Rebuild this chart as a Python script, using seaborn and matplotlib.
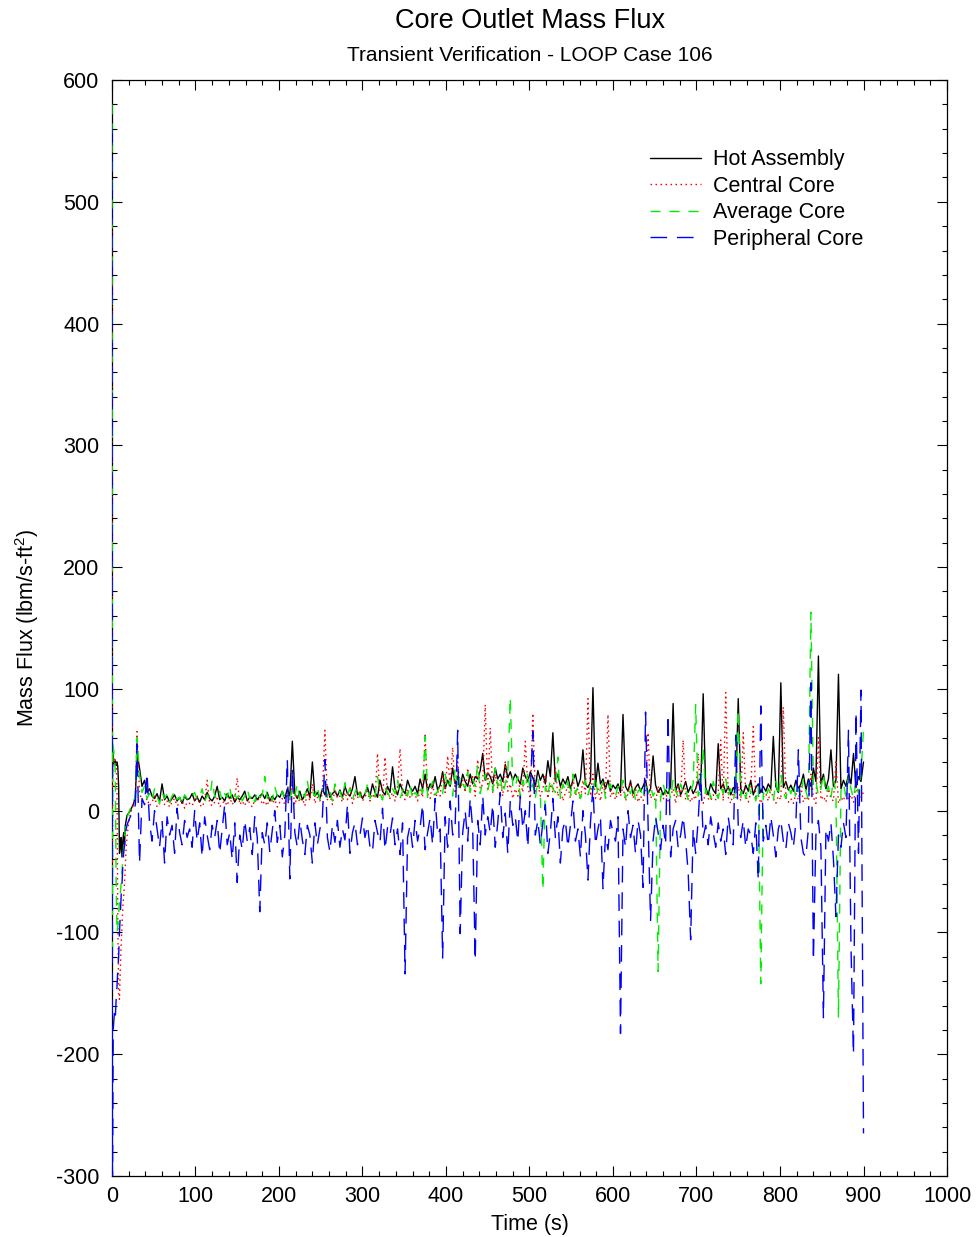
import numpy as np
import pandas as pd
import matplotlib
matplotlib.use("Agg")
import matplotlib.pyplot as plt
from matplotlib.ticker import MultipleLocator
import seaborn as sns

# ---- data -------------------------------------------------------------
# start-up transient (finer sampling), then every 3 s up to 900 s
t_start = [0, 0.5, 1, 1.5, 2, 3, 4, 5, 6, 7, 8, 9, 10, 11, 12, 13, 14, 15,
           16, 17, 18, 20, 22, 24, 26, 28, 30]
t_run = np.arange(33, 901, 3)

hot_start = [420, 30, 48, 42, 40, 38, 41, 37, 40, 36, 20, -35, -30, -22, -38,
             -25, -18, -28, -12, -8, -4, -2, 0, 3, 6, 12, 48]
central_start = [480, -60, 50, 46, 44, 40, 42, 38, 20, -90, -150, -155, -130,
                 -110, -95, -80, -70, -60, -45, -30, -22, -10, -3, 2, 5, 8, 65]
average_start = [580, -120, 55, 52, 50, 45, 30, -60, -100, -95, -85, -75, -68,
                 -60, -50, -40, -30, -22, -15, -10, -6, -2, 2, 5, 8, 12, 60]
peripheral_start = [560, -330, -250, -180, -175, -165, -170, -155, -145, -130,
                    -120, -100, -85, -70, -60, -45, -35, -28, -22, -15, -12,
                    -8, -5, -2, 0, 5, 55]

hot_run = [
    35, 20, 25, 15, 18, 12, 10, 14, 8, 22,
    9, 12, 7, 10, 13, 8, 11, 6, 12, 9,
    10, 14, 8, 11, 7, 12, 9, 15, 10, 8,
    12, 20, 9, 11, 8, 14, 10, 13, 7, 11,
    9, 12, 16, 8, 11, 10, 13, 9, 12, 14,
    10, 15, 8, 12, 9, 13, 11, 16, 10, 18,
    12, 57, 14, 10, 16, 9, 13, 18, 11, 40,
    12, 15, 10, 18, 13, 20, 11, 14, 16, 12,
    17, 11, 20, 14, 12, 18, 28, 13, 15, 10,
    14, 19, 12, 22, 15, 11, 25, 16, 13, 20,
    15, 36, 18, 13, 22, 17, 14, 25, 19, 16,
    20, 14, 26, 18, 30, 16, 22, 19, 28, 17,
    21, 32, 18, 25, 20, 35, 22, 28, 19, 30,
    24, 20, 30, 22, 28, 26, 33, 47, 25, 31,
    28, 22, 35, 26, 30, 24, 38, 27, 32, 25,
    30, 26, 22, 35, 28, 24, 32, 27, 20, 33,
    25, 30, 22, 41, 28, 64, 24, 30, 20, 26,
    22, 28, 18, 25, 30, 20, 26, 50, 22, 19,
    24, 101, 20, 39, 22, 26, 18, 25, 16, 21,
    18, 22, 15, 79, 20, 16, 24, 14, 19, 22,
    16, 20, 25, 14, 18, 45, 21, 15, 19, 13,
    17, 14, 20, 88, 16, 22, 13, 18, 24, 15,
    20, 14, 18, 25, 16, 96, 19, 13, 22, 17,
    14, 55, 18, 22, 15, 20, 13, 19, 16, 92,
    18, 14, 21, 16, 25, 13, 19, 22, 15, 20,
    16, 22, 18, 61, 20, 15, 105, 19, 24, 17,
    21, 16, 25, 18, 22, 30, 17, 26, 20, 35,
    24, 127, 22, 30, 18, 26, 50, 20, 25, 112,
    18, 25, 20, 30, 22, 47, 19, 28, 24, 40,
]

central_run = [
    15, 8, 5, 10, 4, 7, 12, 3, 6, 9,
    5, 8, 3, 7, 10, 4, 6, 9, 2, 7,
    6, 4, 9, 12, 5, 3, 8, 25, 6, 4,
    7, 10, 3, 6, 8, 4, 11, 5, 9, 27,
    5, 8, 4, 10, 6, 3, 9, 7, 12, 5,
    8, 4, 11, 6, 9, 3, 7, 10, 5, 14,
    9, 20, 5, 12, 7, 10, 4, 15, 8, 22,
    6, 11, 8, 14, 66, 9, 13, 5, 18, 10,
    12, 7, 15, 9, 20, 6, 13, 10, 17, 8,
    11, 16, 8, 14, 10, 47, 12, 9, 44, 13,
    10, 15, 8, 20, 51, 12, 9, 18, 11, 14,
    13, 8, 17, 11, 62, 14, 10, 22, 9, 16,
    12, 30, 15, 45, 20, 52, 14, 40, 18, 25,
    15, 35, 20, 28, 12, 42, 18, 22, 87, 16,
    68, 14, 30, 18, 25, 12, 40, 16, 22, 10,
    18, 12, 25, 15, 57, 20, 10, 80, 14, 22,
    12, 18, 30, 10, 22, 15, 35, 12, 20, 8,
    15, 20, 10, 28, 12, 18, 9, 25, 14, 92,
    12, 30, 10, 18, 8, 22, 14, 79, 11, 16,
    9, 15, 12, 20, 8, 14, 25, 10, 18, 7,
    12, 8, 16, 64, 10, 14, 7, 20, 11, 9,
    15, 8, 12, 18, 6, 22, 10, 58, 9, 14,
    7, 12, 9, 47, 11, 6, 16, 10, 8, 13,
    9, 14, 58, 8, 97, 11, 6, 15, 10, 20,
    8, 64, 12, 7, 15, 69, 9, 13, 6, 11,
    14, 8, 18, 10, 6, 12, 9, 85, 11, 7,
    10, 6, 14, 9, 20, 7, 12, 8, 30, 11,
    6, 60, 9, 12, 7, 18, 10, 8, 40, 6,
    11, 8, 16, 9, 13, 7, 20, 10, 12, 15,
]

average_run = [
    30, 15, 20, 10, 14, 8, 18, 12, 6, 15,
    10, 14, 7, 12, 16, 9, 11, 5, 13, 10,
    8, 12, 15, 9, 11, 18, 7, 13, 10, 25,
    12, 9, 16, 8, 14, 11, 20, 7, 13, 10,
    15, 8, 12, 18, 10, 14, 7, 16, 11, 13,
    28, 10, 15, 8, 20, 12, 9, 16, 11, 14,
    10, 18, 12, 22, 9, 15, 11, 24, 13, 16,
    12, 20, 9, 15, 25, 11, 17, 8, 22, 14,
    16, 10, 23, 13, 18, 9, 15, 20, 11, 17,
    13, 22, 10, 16, 12, 28, 14, 9, 19, 15,
    11, 18, 14, 25, 10, 16, 20, 12, 22, 9,
    15, 12, 20, 14, 61, 11, 18, 24, 13, 16,
    20, 14, 30, 18, 25, 12, 35, 16, 28, 22,
    18, 32, 15, 26, 20, 38, 14, 24, 30, 17,
    25, 16, 35, 20, 28, 14, 22, 30, 93, 18,
    20, 28, 12, 25, 18, 32, 15, 22, 10, 26,
    14, -65, 20, 12, 26, 18, 15, 44, 10, 22,
    16, 24, 12, 30, 14, 20, 10, 18, 25, 13,
    20, 15, 28, 12, 18, 24, 10, 16, 22, 14,
    12, 20, 16, 25, 10, 18, 14, 22, 8, 16,
    18, 10, 24, 14, 20, 12, 16, -132, 10, 22,
    14, 20, 10, 26, 16, 12, 22, 15, 18, 9,
    16, 22, 87, 12, 18, 52, 14, 20, 10, 24,
    15, 10, 20, 14, 26, 12, 18, 9, 16, 83,
    12, 18, 10, 22, 14, 16, 8, 20, -142, 15,
    10, 18, 14, 8, 24, 12, 30, 16, 10, 20,
    14, 22, 10, 18, 12, 26, 16, 9, 163, 20,
    24, 12, 18, 30, 14, 20, 10, 26, 15, -170,
    16, 22, 12, 28, 18, 10, 24, 14, 30, 67,
]

peripheral_run = [
    -43, 10, 5, 31, -10, -25, 0, -15, -30, -8,
    -43, -5, -20, -12, -35, 2, -18, -28, -8, -22,
    -15, -30, 0, -25, -10, -38, -5, -20, -32, -12,
    -22, -8, -35, -15, 5, -28, -18, -40, -10, -59,
    -20, -32, -8, -25, -14, -36, -5, -22, -83, -18,
    -28, -10, -34, -16, 0, -26, -12, -38, -20, 42,
    -56, 35, -18, -30, -8, -24, -36, -12, -20, -43,
    -10, -28, -15, -5, 42, -22, -34, -12, -26, -8,
    -30, -15, -24, 5, -35, -18, -10, -28, -20, -6,
    -22, -12, -30, -34, -8, -18, -26, 2, -32, -14,
    -20, -6, -28, -15, -36, -10, -134, -22, -12, -30,
    -8, -25, -14, 5, -32, -18, -6, -28, 10, -20,
    -15, -121, -5, -30, 8, -20, -12, 66, -101, -18,
    0, -25, 10, -15, -123, -8, -28, 12, -20, -5,
    -18, 5, -30, -10, 15, -22, -2, -35, 8, -12,
    -5, -25, 12, -15, 0, -30, 18, 65, -20, -8,
    -28, -10, 5, -35, -18, 10, -22, -5, -43, -15,
    -8, -30, -12, 8, -25, -15, -38, 0, -20, -57,
    -10, 20, -28, -15, -5, -64, -20, -32, -8, -18,
    -25, -5, -183, -15, -30, 0, -22, -12, -35, -8,
    -20, -63, 81, -10, -90, -25, -5, -18, -32, -12,
    -28, 79, -38, -15, -8, -30, -20, -5, -25, -50,
    -106, -15, -35, -8, 30, -22, -12, -28, -5, -18,
    -30, -10, -25, -15, -36, -5, -20, -28, 62, -12,
    -22, -8, -30, -15, -20, -35, -10, -57, 86, -25,
    -12, -28, -5, -20, -38, -15, -8, -25, -32, -10,
    -18, -30, -10, 50, -22, -35, -38, -15, 105, -123,
    -20, -8, -30, -170, -15, -25, -10, -40, -87, -20,
    -30, -10, -22, 66, -112, -200, 81, -35, 99, -265,
]

series_names = ["Hot Assembly", "Central Core", "Average Core", "Peripheral Core"]
series_values = [hot_start + hot_run, central_start + central_run,
                 average_start + average_run, peripheral_start + peripheral_run]

# ---- build long table ---------------------------------------------------
time_all = list(t_start) + list(t_run)
frames = []
for name, vals in zip(series_names, series_values):
    assert len(vals) == len(time_all), name
    frames.append(pd.DataFrame({"time": time_all, "flux": vals, "series": name}))
df = pd.concat(frames, ignore_index=True)

# ---- style --------------------------------------------------------------
sns.set_theme(style="ticks")
plt.rcParams["font.family"] = ["Liberation Sans", "DejaVu Sans"]
plt.rcParams["mathtext.fontset"] = "custom"
plt.rcParams["mathtext.rm"] = "Liberation Sans"
plt.rcParams["mathtext.it"] = "Liberation Sans"
plt.rcParams["axes.unicode_minus"] = False
for key in ["text.color", "axes.labelcolor", "xtick.color", "ytick.color"]:
    plt.rcParams[key] = "black"

colors = ["#000000", "#ff0000", "#00ee00", "#0000ff"]
styles = ["-", (0, (1.1, 2.5)), (0, (7.2, 6.5)), (0, (12, 7))]

fig = plt.figure(figsize=(9.77, 12.37), dpi=100)
ax = fig.add_axes([0.1146, 0.0493, 0.8547, 0.8860])

for name, col, ls in zip(series_names, colors, styles):
    sub = df[df["series"] == name]
    sns.lineplot(data=sub, x="time", y="flux", ax=ax, color=col, linestyle=ls,
                 lw=1.0, estimator=None, sort=False, label=name, zorder=3)

ax.set_xlim(0, 1000)
ax.set_ylim(-300, 600)
ax.xaxis.set_major_locator(MultipleLocator(100))
ax.xaxis.set_minor_locator(MultipleLocator(20))
ax.yaxis.set_major_locator(MultipleLocator(100))
ax.yaxis.set_minor_locator(MultipleLocator(20))
ax.tick_params(which="both", direction="in", top=True, right=True,
               color="black", width=0.8)
ax.tick_params(which="major", length=7.2, labelsize=15.5)
ax.tick_params(axis="y", which="major", pad=9)
ax.tick_params(axis="x", which="major", pad=7)
ax.tick_params(which="minor", length=3.6)
for sp in ax.spines.values():
    sp.set_color("black")
    sp.set_linewidth(0.9)

ax.set_xlabel("Time (s)", fontsize=15.5, labelpad=5)
ax.set_ylabel("Mass Flux (lbm/s-ft$^{2}$)", fontsize=15.5, labelpad=11)

fig.text(0.5425, 0.9830, "Core Outlet Mass Flux", ha="center", va="center",
         fontsize=19.5)
fig.text(0.5425, 0.9555, "Transient Verification - LOOP Case 106", ha="center",
         va="center", fontsize=15)

leg = ax.legend(loc="upper left", bbox_to_anchor=(0.6443, 0.937), frameon=False,
                fontsize=15.5, handlelength=2.35, handletextpad=0.6,
                labelspacing=0.26, borderpad=0, borderaxespad=0)

fig.savefig("out.png", dpi=100)
